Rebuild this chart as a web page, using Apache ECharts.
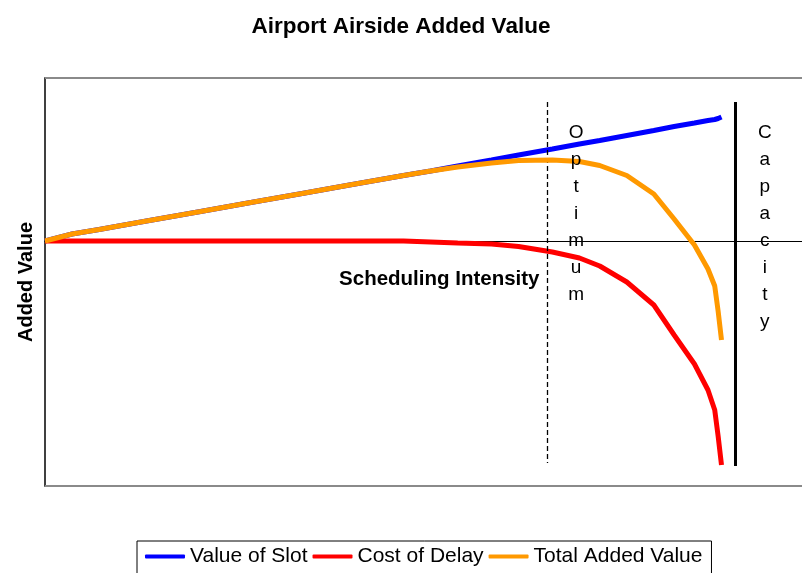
<!DOCTYPE html>
<html>
<head>
<meta charset="utf-8">
<script src="https://cdn.jsdelivr.net/npm/echarts@6/dist/echarts.min.js"></script>
<style>
html,body{margin:0;padding:0;background:#fff;}
#chart{width:802px;height:573px;}
</style>
</head>
<body>
<div id="chart"></div>
<script>
// Scheduling intensity (arbitrary units, 0 = start of curves, 100 = end of curves)
var intensity = [0, 4, 8, 15, 23, 30, 38, 45, 53, 57, 61, 66, 70, 75, 79, 82, 86, 90, 93, 96, 98, 99, 99.5, 100];
var valueOfSlot = [0, 7, 11.5, 20, 29.5, 38, 47.5, 56, 65.5, 70, 75, 81, 86, 92, 97, 100.5, 105.5, 110.5, 114.5, 118, 120.5, 121.5, 122.5, 124];
var costOfDelay = [0, 0, 0, 0, 0, 0, 0, 0, 0, -1, -2, -3, -5.5, -11, -17, -25, -41, -64, -94, -123, -149, -169, -195, -224];
var totalAddedValue = [0, 7, 11.5, 20, 29.5, 38, 47.5, 56, 65.5, 70, 74, 78, 80.5, 81, 79.5, 75.5, 65.5, 47, 22, -4, -28, -45, -70, -99];

var seriesNames = ['Value of Slot', 'Cost of Delay', 'Total Added Value'];
var optimumX = 74.3;
var capacityX = 102;
var refLineTop = 139;
var optimumBottom = -222;
var capacityBottom = -225;
var X_MIN = 0, X_MAX = 111.9, Y_MIN = -245, Y_MAX = 163;

function pairs(xs, ys) { return xs.map(function (x, i) { return [x, ys[i]]; }); }

var chart = echarts.init(document.getElementById('chart'), null, {renderer: 'canvas'});
var FONT = 'Arial, "Liberation Sans", sans-serif';

var option = {
  animation: false,
  backgroundColor: '#ffffff',
  title: {
    text: 'Airport Airside Added Value',
    left: 'center',
    top: 10,
    textStyle: {fontFamily: FONT, fontSize: 22.5, fontWeight: 'bold', color: '#000'}
  },
  legend: {
    data: seriesNames,
    left: 137,
    top: 541,
    itemWidth: 40,
    itemHeight: 4,
    itemGap: 5,
    padding: [5, 9, 10, 8],
    borderColor: '#000',
    borderWidth: 1,
    icon: 'roundRect',
    textStyle: {fontFamily: FONT, fontSize: 21, color: '#000'}
  },
  grid: {
    left: 45, top: 78, right: 0, height: 408,
    show: false
  },
  xAxis: {
    type: 'value', min: X_MIN, max: X_MAX,
    axisLine: {show: true, onZero: true, lineStyle: {color: '#000', width: 1}},
    axisTick: {show: false}, axisLabel: {show: false}, splitLine: {show: false}
  },
  yAxis: {
    type: 'value', min: Y_MIN, max: Y_MAX,
    name: 'Added Value', nameLocation: 'middle', nameGap: 9, nameRotate: 90,
    nameTextStyle: {fontFamily: FONT, fontSize: 20, fontWeight: 'bold', color: '#000'},
    axisLine: {show: true, onZero: false, lineStyle: {color: '#404040', width: 2}},
    axisTick: {show: false}, axisLabel: {show: false}, splitLine: {show: false}
  },
  series: [
    {
      name: seriesNames[0], type: 'line', data: pairs(intensity, valueOfSlot),
      symbol: 'none', color: '#0000ff', lineStyle: {width: 5, color: '#0000ff'}, z: 3,
      markLine: {
        silent: true, symbol: ['none', 'none'], label: {show: false},
        data: [
          [{coord: [optimumX, refLineTop], lineStyle: {type: [5, 3], width: 1.3, color: '#000'}},
           {coord: [optimumX, optimumBottom]}],
          [{coord: [capacityX, refLineTop], lineStyle: {type: 'solid', width: 3, color: '#000'}},
           {coord: [capacityX, capacityBottom]}]
        ]
      }
    },
    {
      name: seriesNames[1], type: 'line', data: pairs(intensity, costOfDelay),
      symbol: 'none', color: '#ff0000', lineStyle: {width: 5, color: '#ff0000'}, z: 4
    },
    {
      name: seriesNames[2], type: 'line', data: pairs(intensity, totalAddedValue),
      symbol: 'none', color: '#ff9900', lineStyle: {width: 5, color: '#ff9900'}, z: 5
    }
  ]
};
chart.setOption(option);

// Annotations and frame placed through the chart's own coordinate system
var optLabel = chart.convertToPixel({gridIndex: 0}, [78.5, 122]);
var capLabel = chart.convertToPixel({gridIndex: 0}, [106.4, 122]);
var schedLabel = chart.convertToPixel({gridIndex: 0}, [73.1, -38]);
var topLeft = chart.convertToPixel({gridIndex: 0}, [X_MIN, Y_MAX]);
var bottomLeft = chart.convertToPixel({gridIndex: 0}, [X_MIN, Y_MIN]);
var rightEdge = 820;

chart.setOption({
  graphic: [
    {
      type: 'line', z: 1, shape: {x1: topLeft[0], y1: topLeft[1], x2: rightEdge, y2: topLeft[1]},
      style: {stroke: '#8a8a8a', lineWidth: 2}
    },
    {
      type: 'line', z: 1, shape: {x1: bottomLeft[0], y1: bottomLeft[1], x2: rightEdge, y2: bottomLeft[1]},
      style: {stroke: '#8a8a8a', lineWidth: 2}
    },
    {
      type: 'text', x: optLabel[0], y: optLabel[1], z: 10,
      style: {text: 'O\np\nt\ni\nm\nu\nm', fill: '#000', font: '19px ' + FONT, align: 'center', verticalAlign: 'top', lineHeight: 27}
    },
    {
      type: 'text', x: capLabel[0], y: capLabel[1], z: 10,
      style: {text: 'C\na\np\na\nc\ni\nt\ny', fill: '#000', font: '19px ' + FONT, align: 'center', verticalAlign: 'top', lineHeight: 27}
    },
    {
      type: 'text', x: schedLabel[0], y: schedLabel[1], z: 10,
      style: {text: 'Scheduling Intensity', fill: '#000', font: 'bold 20.5px ' + FONT, align: 'right', verticalAlign: 'middle'}
    }
  ]
});
</script>
</body>
</html>
